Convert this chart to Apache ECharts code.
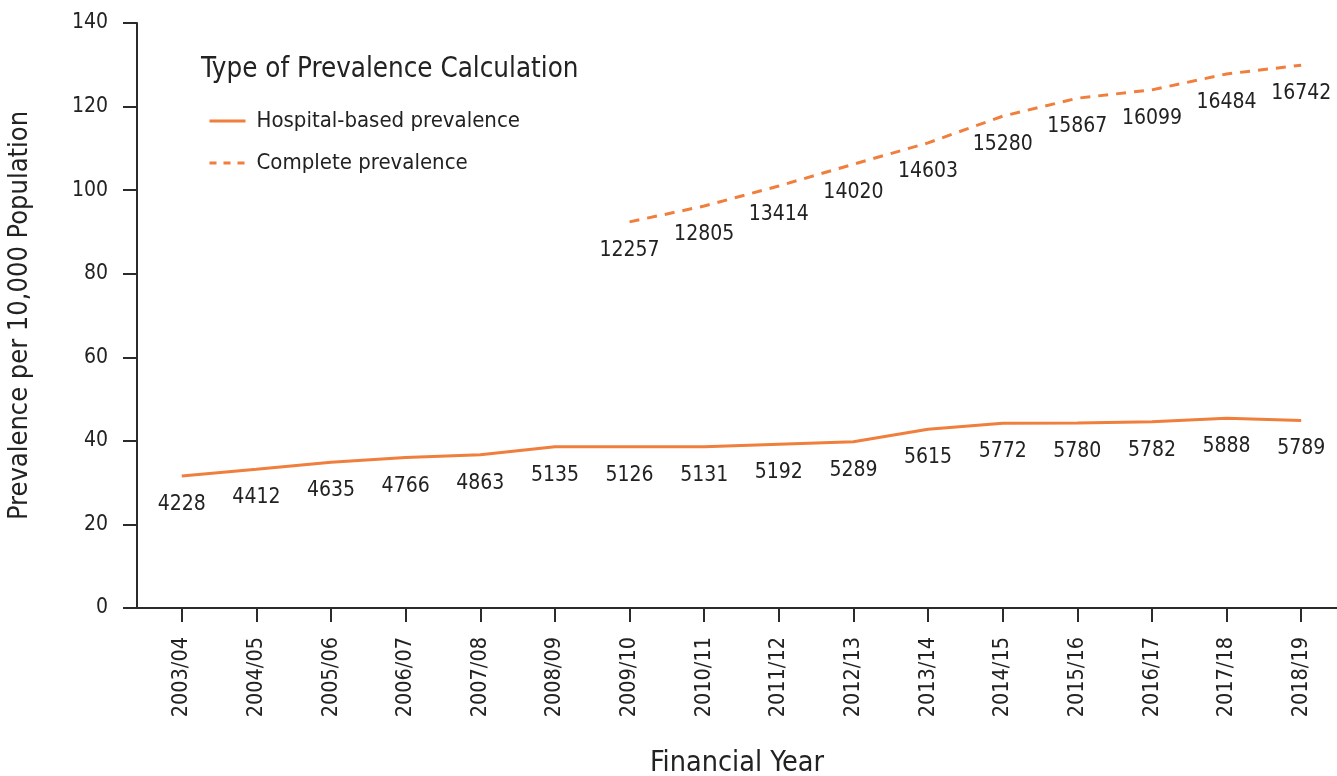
<!DOCTYPE html>
<html>
<head>
<meta charset="utf-8">
<script src="https://cdn.jsdelivr.net/npm/echarts@6/dist/echarts.min.js"></script>
<style>
html,body{margin:0;padding:0;background:#fff;}
#chart{width:1337px;height:776px;}
</style>
</head>
<body>
<div id="chart"></div>
<script>
const categories = ['2003/04','2004/05','2005/06','2006/07','2007/08','2008/09','2009/10','2010/11','2011/12','2012/13','2013/14','2014/15','2015/16','2016/17','2017/18','2018/19'];
const hospitalRate = [31.6,33.2,34.9,36.0,36.7,38.6,38.6,38.6,39.2,39.8,42.8,44.2,44.3,44.6,45.4,44.9];
const hospitalCount = [4228,4412,4635,4766,4863,5135,5126,5131,5192,5289,5615,5772,5780,5782,5888,5789];
const completeRate = [null,null,null,null,null,null,92.4,96.2,101.0,106.2,111.3,117.7,122.0,124.0,127.8,129.9];
const completeCount = [null,null,null,null,null,null,12257,12805,13414,14020,14603,15280,15867,16099,16484,16742];
const yTicks = [0,20,40,60,80,100,120,140];

const FONT = "'DejaVu Sans Condensed', 'Liberation Sans Narrow', Roboto, sans-serif";
const ORANGE = '#F07E3C';
const TEXT = '#222';

const idx = categories.map((c, i) => i);
const toPairs = arr => arr.map((v, i) => [i, v]);

const chart = echarts.init(document.getElementById('chart'), null, {renderer: 'canvas'});
chart.setOption({
  animation: false,
  backgroundColor: '#fff',
  textStyle: {fontFamily: FONT, color: TEXT},
  title: {
    text: 'Type of Prevalence Calculation',
    left: 196, top: 51,
    textStyle: {fontFamily: FONT, fontSize: 27.5, fontWeight: 'normal', color: TEXT}
  },
  legend: {
    orient: 'vertical',
    left: 203, top: 105,
    itemWidth: 36, itemHeight: 24, itemGap: 20,
    textStyle: {fontFamily: FONT, fontSize: 22, color: TEXT, padding: [0,0,0,6]},
    itemStyle: {opacity: 0},
    lineStyle: {width: 3},
    data: [
      {name: 'Hospital-based prevalence'},
      {name: 'Complete prevalence', lineStyle: {width: 3, type: [7, 7]}}
    ]
  },
  grid: {left: 137, right: 0, top: 23, bottom: 168, containLabel: false, outerBoundsMode: 'none'},
  xAxis: {
    type: 'value',
    min: -0.6, max: 15.48,
    name: 'Financial Year',
    nameLocation: 'middle',
    nameGap: 141,
    nameTextStyle: {fontFamily: FONT, fontSize: 28.5, color: TEXT},
    splitLine: {show: false},
    axisLine: {show: true, onZero: false, lineStyle: {color: '#2b2b2b', width: 2}},
    axisTick: {show: true, customValues: idx, length: 14, lineStyle: {color: '#2b2b2b', width: 2}},
    axisLabel: {
      customValues: idx,
      rotate: 90, margin: 29,
      fontFamily: FONT, fontSize: 21.5, color: TEXT,
      formatter: v => categories[Math.round(v)]
    }
  },
  yAxis: {
    type: 'value',
    min: 0, max: 140, interval: 20,
    name: 'Prevalence per 10,000 Population',
    nameLocation: 'middle',
    nameGap: 104,
    nameRotate: 90,
    nameTextStyle: {fontFamily: FONT, fontSize: 27, color: TEXT},
    splitLine: {show: false},
    axisLine: {show: true, onZero: false, lineStyle: {color: '#2b2b2b', width: 2}},
    axisTick: {show: true, length: 14, lineStyle: {color: '#2b2b2b', width: 2}},
    axisLabel: {
      margin: 29, fontFamily: FONT, fontSize: 21, color: TEXT,
      formatter: v => yTicks.includes(v) ? String(v) : ''
    }
  },
  series: [
    {
      name: 'Hospital-based prevalence',
      type: 'line',
      data: toPairs(hospitalRate),
      symbol: 'circle', symbolSize: 0,
      itemStyle: {color: ORANGE},
      lineStyle: {color: ORANGE, width: 3, type: 'solid'},
      label: {
        show: true, position: 'bottom', distance: 18,
        fontFamily: FONT, fontSize: 21, color: TEXT,
        formatter: p => String(hospitalCount[p.dataIndex])
      }
    },
    {
      name: 'Complete prevalence',
      type: 'line',
      data: toPairs(completeRate),
      symbol: 'circle', symbolSize: 0,
      itemStyle: {color: ORANGE},
      lineStyle: {color: ORANGE, width: 3, type: [10, 8]},
      label: {
        show: true, position: 'bottom', distance: 18,
        fontFamily: FONT, fontSize: 21, color: TEXT,
        formatter: p => completeCount[p.dataIndex] == null ? '' : String(completeCount[p.dataIndex])
      }
    }
  ]
});
</script>
</body>
</html>
